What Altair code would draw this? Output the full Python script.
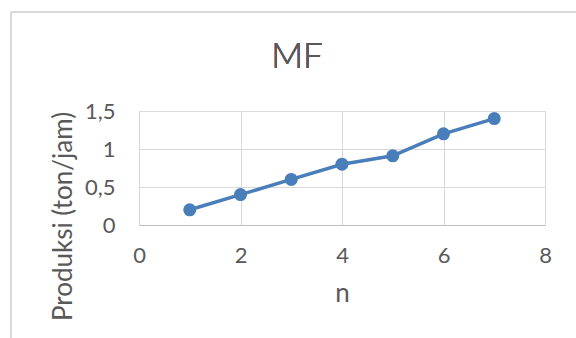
import altair as alt
import pandas as pd

n_vals = [1, 2, 3, 4, 5, 6, 7]
produksi = [0.2, 0.4, 0.6, 0.8, 0.91, 1.2, 1.4]
x_ticks = [0, 2, 4, 6, 8]
y_ticks = [0, 0.5, 1, 1.5]
chart_title = "MF"

df = pd.DataFrame({"n": n_vals, "Produksi": produksi})

FONT = "Lato"
TXT = "#595959"
BLUE = "#4A7EBB"
GRID = "#D9D9D9"

x_enc = alt.X(
    "n:Q",
    title="n",
    scale=alt.Scale(domain=[0, 8], nice=False),
    axis=alt.Axis(
        values=x_ticks, grid=True, gridColor=GRID, ticks=False,
        domainColor="#BFBFBF", labelFontSize=22, labelColor=TXT, labelFont=FONT,
        labelPadding=20, labelFlush=False, labelOverlap=False,
        titleFontSize=26, titleColor=TXT, titleFont=FONT,
        titleFontWeight="normal", titlePadding=14,
    ),
)
y_enc = alt.Y(
    "Produksi:Q",
    title="Produksi (ton/jam)",
    scale=alt.Scale(domain=[0, 1.5], nice=False),
    axis=alt.Axis(
        values=y_ticks, tickCount=4, grid=True, gridColor=GRID, ticks=False, domain=False,
        labelExpr="replace(toString(datum.value), '.', ',')",
        labelFontSize=22, labelColor=TXT, labelFont=FONT, labelPadding=24,
        labelFlush=False, labelOverlap=False,
        titleFontSize=26, titleColor=TXT, titleFont=FONT, titleFontWeight="normal",
        titlePadding=8, titleY=105,
    ),
)

line = alt.Chart(df).mark_line(color=BLUE, strokeWidth=3.5).encode(x=x_enc, y=y_enc)
pts = alt.Chart(df).mark_circle(color=BLUE, size=170, opacity=1).encode(x=x_enc, y=y_enc)

frame_top = alt.Chart(df).mark_rule(color=GRID, strokeWidth=1.5).encode(
    x=alt.value(-128), x2=alt.value(440), y=alt.value(-99)
)
frame_left = alt.Chart(df).mark_rule(color=GRID, strokeWidth=1.5).encode(
    x=alt.value(-128), y=alt.value(-99), y2=alt.value(230)
)
title_txt = alt.Chart(df).mark_text(
    font=FONT, fontSize=35, fontWeight=300, color=TXT, baseline="alphabetic", align="center"
).encode(x=alt.value(158), y=alt.value(-43), text=alt.value(chart_title))

chart = (
    alt.layer(line, pts, frame_top, frame_left, title_txt)
    .properties(
        width=406,
        height=114,
        autosize=alt.AutoSizeParams(type="none"),
        padding={"left": 139, "top": 111, "right": 31, "bottom": 113},
        background="white",
    )
    .configure_view(strokeWidth=0)
)

chart.save("out.html", embed_options={"renderer": "svg", "actions": False})
